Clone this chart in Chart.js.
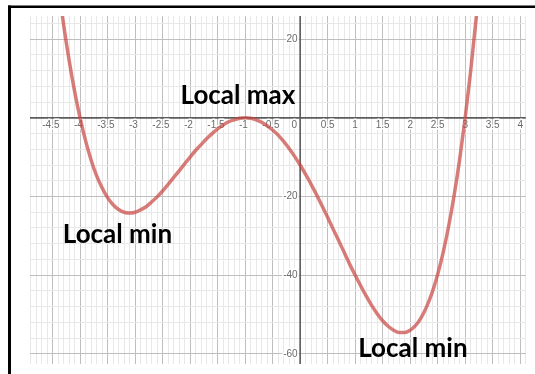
<!DOCTYPE html>
<html>
<head>
<meta charset="utf-8">
<script src="https://cdn.jsdelivr.net/npm/chart.js@4/dist/chart.umd.min.js"></script>
<style>
  html, body { margin: 0; padding: 0; background: #fff; }
  canvas { display: block; }
</style>
</head>
<body>
<canvas id="graph" width="535" height="374"></canvas>
<script>
// points along the curve
var xValues = [-4.4, -4.3, -4.2, -4.1, -4.0, -3.9, -3.8, -3.7, -3.6, -3.5,
               -3.4, -3.3, -3.2, -3.1, -3.0, -2.9, -2.8, -2.7, -2.6, -2.5,
               -2.4, -2.3, -2.2, -2.1, -2.0, -1.9, -1.8, -1.7, -1.6, -1.5,
               -1.4, -1.3, -1.2, -1.1, -1.0, -0.9, -0.8, -0.7, -0.6, -0.5,
               -0.4, -0.3, -0.2, -0.1, 0.0, 0.1, 0.2, 0.3, 0.4, 0.5,
               0.6, 0.7, 0.8, 0.9, 1.0, 1.1, 1.2, 1.3, 1.4, 1.5,
               1.6, 1.7, 1.8, 1.9, 2.0, 2.1, 2.2, 2.3, 2.4, 2.5,
               2.6, 2.7, 2.8, 2.9, 3.0, 3.1, 3.2, 3.3];
var yValues = [34.2, 23.8, 14.7, 6.8, 0, -5.8, -10.7, -14.7, -17.8, -20.3,
               -22.1, -23.3, -24.0, -24.2, -24.0, -23.4, -22.6, -21.4, -20.1, -18.6,
               -16.9, -15.2, -13.5, -11.7, -10.0, -8.3, -6.8, -5.3, -4.0, -2.8,
               -1.8, -1.0, -0.5, -0.1, 0, -0.1, -0.5, -1.1, -2.0, -3.1,
               -4.4, -6.0, -7.8, -9.8, -12.0, -14.4, -16.9, -19.6, -22.4, -25.3,
               -28.3, -31.2, -34.2, -37.2, -40.0, -42.7, -45.3, -47.7, -49.8, -51.6,
               -53.0, -54.0, -54.6, -54.6, -54.0, -52.8, -50.8, -48.0, -44.4, -39.8,
               -34.2, -27.5, -19.6, -10.5, 0, 11.9, 25.4, 40.5];

// numbers written along the axes
var xTicks = [-4.5, -4, -3.5, -3, -2.5, -2, -1.5, -1, -0.5, 0, 0.5, 1, 1.5, 2, 2.5, 3, 3.5, 4];
var yTicks = [20, -20, -40, -60];

// notes, placed in graph units (centre of the text, baseline)
var noteText = ["Local max", "Local min", "Local min"];
var noteX = [-1.13, -3.32, 2.05];
var noteY = [3.6, -31.8, -60.7];

function onStep(v, step) {
  return Math.abs(v / step - Math.round(v / step)) < 1e-6;
}

var graphPaper = {
  id: 'graphPaper',
  beforeDraw: function (chart) {
    var c = chart.ctx;
    c.save();
    c.fillStyle = '#fff';
    c.fillRect(0, 0, chart.width, chart.height);
    // black frame on the left and top
    c.fillStyle = '#000';
    c.fillRect(8, 5.5, 3, chart.height);
    c.fillRect(8, 5.5, chart.width - 8, 2.5);
    c.restore();
  },
  beforeDatasetsDraw: function (chart) {
    var c = chart.ctx, xs = chart.scales.x, ys = chart.scales.y, area = chart.chartArea;
    var x0 = xs.getPixelForValue(0), y0 = ys.getPixelForValue(0);
    c.save();
    c.strokeStyle = '#5c5c5c';
    c.lineWidth = 1.6;
    c.beginPath();
    c.moveTo(area.left, y0); c.lineTo(area.right, y0);
    c.moveTo(x0, area.top); c.lineTo(x0, area.bottom);
    c.stroke();

    c.font = '10px "Liberation Sans", Arial, sans-serif';
    c.textBaseline = 'middle';
    c.lineJoin = 'round';
    c.lineWidth = 3;
    c.strokeStyle = '#fff';
    c.fillStyle = '#6a6a6a';
    c.textAlign = 'right';
    xTicks.forEach(function (v) {
      var s = String(v), px;
      if (v === 0) {
        px = x0 - 3;
      } else {
        // digits sit centred on the grid line, the minus hangs off to the left
        px = xs.getPixelForValue(v) + c.measureText(String(Math.abs(v))).width / 2;
      }
      c.strokeText(s, px, y0 + 7);
      c.fillText(s, px, y0 + 7);
    });
    yTicks.forEach(function (v) {
      var py = ys.getPixelForValue(v);
      c.strokeText(String(v), x0 - 2.5, py);
      c.fillText(String(v), x0 - 2.5, py);
    });
    c.restore();
  },
  afterDatasetsDraw: function (chart) {
    var c = chart.ctx, xs = chart.scales.x, ys = chart.scales.y;
    c.save();
    c.font = 'bold 26px Lato, "Open Sans", sans-serif';
    c.fillStyle = '#000';
    c.textAlign = 'center';
    c.textBaseline = 'alphabetic';
    for (var i = 0; i < noteText.length; i++) {
      c.fillText(noteText[i], xs.getPixelForValue(noteX[i]), ys.getPixelForValue(noteY[i]));
    }
    c.restore();
  }
};

var points = xValues.map(function (x, i) { return { x: x, y: yValues[i] }; });

new Chart(document.getElementById('graph'), {
  type: 'scatter',
  data: {
    datasets: [{
      data: points,
      showLine: true,
      borderColor: 'rgba(199, 68, 64, 0.7)',
      borderWidth: 3.5,
      pointRadius: 0,
      cubicInterpolationMode: 'monotone',
      clip: 0
    }]
  },
  options: {
    responsive: false,
    animation: false,
    devicePixelRatio: 1,
    layout: { autoPadding: false, padding: { left: 30, top: 16, right: 9.3, bottom: 10 } },
    plugins: { legend: { display: false }, tooltip: { enabled: false } },
    scales: {
      x: {
        type: 'linear',
        position: 'bottom',
        min: -4.91,
        max: 4.1,
        ticks: { display: false, stepSize: 0.1, includeBounds: false },
        border: { display: false },
        grid: {
          drawTicks: false,
          color: function (ctx) { return onStep(ctx.tick.value, 0.5) ? '#bebebe' : '#e8e8e8'; }
        }
      },
      y: {
        type: 'linear',
        position: 'left',
        min: -62.6,
        max: 25.9,
        ticks: { display: false, stepSize: 4, includeBounds: false },
        border: { display: false },
        grid: {
          drawTicks: false,
          color: function (ctx) { return onStep(ctx.tick.value, 20) ? '#bebebe' : '#e8e8e8'; }
        }
      }
    }
  },
  plugins: [graphPaper]
});
</script>
</body>
</html>
